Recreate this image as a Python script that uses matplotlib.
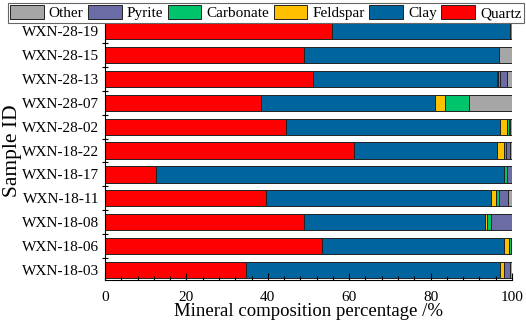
import numpy as np
import matplotlib
matplotlib.use("Agg")
import matplotlib.pyplot as plt
from matplotlib.ticker import MultipleLocator

plt.rcParams['font.family'] = ['Liberation Serif', 'DejaVu Serif']

# data (bottom row first)
samples = ['WXN-18-03', 'WXN-18-06', 'WXN-18-08', 'WXN-18-11', 'WXN-18-17', 'WXN-18-22',
           'WXN-28-02', 'WXN-28-07', 'WXN-28-13', 'WXN-28-15', 'WXN-28-19']
quartz =    [34.6, 53.4, 49.0, 39.6, 12.6, 61.3, 44.5, 38.3, 51.2, 48.9, 55.8]
clay =      [62.4, 44.6, 44.4, 55.2, 85.5, 35.0, 52.5, 42.9, 45.0, 48.0, 43.7]
feldspar =  [1.0, 1.3, 0.5, 1.2, 0.0, 1.7, 1.8, 2.4, 0.4, 0.0, 0.0]
carbonate = [0.0, 0.4, 0.9, 0.8, 0.6, 0.5, 0.5, 5.8, 0.4, 0.0, 0.5]
pyrite =    [1.5, 0.3, 5.2, 2.3, 1.3, 1.0, 0.2, 0.0, 1.8, 0.0, 0.0]
other =     [0.5, 0.0, 0.0, 0.9, 0.0, 0.5, 0.5, 10.6, 1.2, 3.1, 0.0]

series = [('Quartz', quartz, '#ff0000'),
          ('Clay', clay, '#00659e'),
          ('Feldspar', feldspar, '#ffc000'),
          ('Carbonate', carbonate, '#00c46c'),
          ('Pyrite', pyrite, '#6b6ba6'),
          ('Other', other, '#a6a6a6')]

fig = plt.figure(figsize=(5.26, 3.30), dpi=100)
ax = fig.add_axes([105 / 526, 1 - 280 / 330, 407 / 526, 258 / 330])

y = np.arange(len(samples))
left = np.zeros(len(samples))
handles = {}
for name, vals, col in series:
    vals = np.array(vals)
    b = ax.barh(y, vals, left=left, height=0.68, color=col,
                edgecolor='#222222', linewidth=0.7, label=name)
    handles[name] = b
    left += vals

ax.set_xlim(0, 100)
ax.set_ylim(-0.42, 10.38)
ax.set_yticks(y)
ax.set_yticklabels(samples, fontsize=11)
ax.set_yticks(y[:-1] + 0.5, minor=True)
ax.tick_params(axis='y', which='major', length=0, pad=4)
ax.tick_params(axis='y', which='minor', length=5, direction='inout', width=0.8)
ax.xaxis.set_major_locator(MultipleLocator(20))
ax.xaxis.set_minor_locator(MultipleLocator(4))
ax.tick_params(axis='x', which='major', direction='in', length=5, width=0.8,
               labelsize=11, pad=8)
ax.tick_params(axis='x', which='minor', direction='in', length=3, width=0.8)
for s in ['top', 'right']:
    ax.spines[s].set_visible(False)
for s in ['left', 'bottom']:
    ax.spines[s].set_linewidth(0.8)

ax.set_xlabel('Mineral composition percentage /%', fontsize=13.5, labelpad=-1)
ax.set_ylabel('Sample ID', fontsize=15.5, labelpad=0)

order = ['Other', 'Pyrite', 'Carbonate', 'Feldspar', 'Clay', 'Quartz']
leg = fig.legend([handles[n] for n in order], order, loc='upper center',
                 bbox_to_anchor=(0.505, 1.0), ncol=6, fontsize=11,
                 handlelength=2.2, handleheight=1.0, handletextpad=0.33,
                 columnspacing=0.3, borderpad=0.15, borderaxespad=0.2,
                 fancybox=False, edgecolor='#666666', framealpha=1)
leg.get_frame().set_linewidth(0.8)

fig.savefig('out.png', dpi=100)
